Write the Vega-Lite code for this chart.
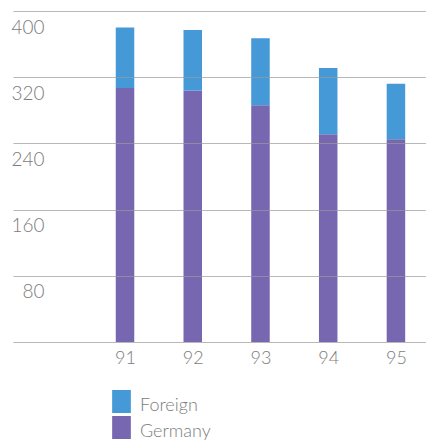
{
  "$schema": "https://vega.github.io/schema/vega-lite/v6.json",
  "autosize": {"type": "none"},
  "padding": {"left": 13, "top": 11, "right": 0, "bottom": 98},
  "width": 413,
  "height": 331,
  "background": "white",
  "config": {
    "view": {"stroke": null},
    "font": "Lato",
    "axis": {"labelFont": "Lato", "labelColor": "#7c7c7c", "labelFontWeight": 300},
    "legend": {"labelFont": "Lato", "labelColor": "#7c7c7c", "labelFontWeight": 300}
  },
  "data": {
    "values": [
      {"year": 91, "series": "Germany", "value": 307},
      {"year": 91, "series": "Foreign", "value": 73},
      {"year": 92, "series": "Germany", "value": 304},
      {"year": 92, "series": "Foreign", "value": 73},
      {"year": 93, "series": "Germany", "value": 286},
      {"year": 93, "series": "Foreign", "value": 81},
      {"year": 94, "series": "Germany", "value": 251},
      {"year": 94, "series": "Foreign", "value": 80},
      {"year": 95, "series": "Germany", "value": 245},
      {"year": 95, "series": "Foreign", "value": 67}
    ]
  },
  "mark": {"type": "bar", "width": 18.5},
  "encoding": {
    "x": {
      "field": "year",
      "type": "quantitative",
      "scale": {"domain": [89.42, 95.37], "nice": false, "zero": false},
      "axis": {
        "title": null,
        "values": [91, 92, 93, 94, 95],
        "format": "d",
        "grid": false,
        "domain": false,
        "ticks": false,
        "tickSize": 0,
        "labelAngle": 0,
        "labelFontSize": 18,
        "labelBaseline": "alphabetic",
        "labelPadding": 21
      }
    },
    "y": {
      "field": "value",
      "type": "quantitative",
      "stack": "zero",
      "scale": {"domain": [0, 400], "nice": false},
      "axis": {
        "title": null,
        "values": [0, 80, 160, 240, 320, 400],
        "domain": false,
        "ticks": false,
        "tickSize": 0,
        "grid": true,
        "gridColor": "#9a9a9a",
        "gridOpacity": 0.7,
        "zindex": 1,
        "labelFontSize": 19,
        "labelAlign": "right",
        "labelBaseline": "alphabetic",
        "labelPadding": -31,
        "labelOffset": 22,
        "labelExpr": "datum.value == 0 ? '' : datum.label"
      }
    },
    "color": {
      "field": "series",
      "type": "nominal",
      "scale": {"domain": ["Foreign", "Germany"], "range": ["#4499d6", "#7767b0"]},
      "legend": {
        "title": null,
        "orient": "none",
        "legendX": 97,
        "legendY": 383,
        "symbolType": "M-0.813,-1.35H0.813V0.65H-0.813Z",
        "symbolSize": 529,
        "symbolStrokeWidth": 0,
        "symbolOpacity": 1,
        "rowPadding": 0,
        "labelFontSize": 18,
        "labelOffset": 7,
        "labelBaseline": "middle"
      }
    },
    "order": {"field": "series", "sort": "descending"}
  }
}
